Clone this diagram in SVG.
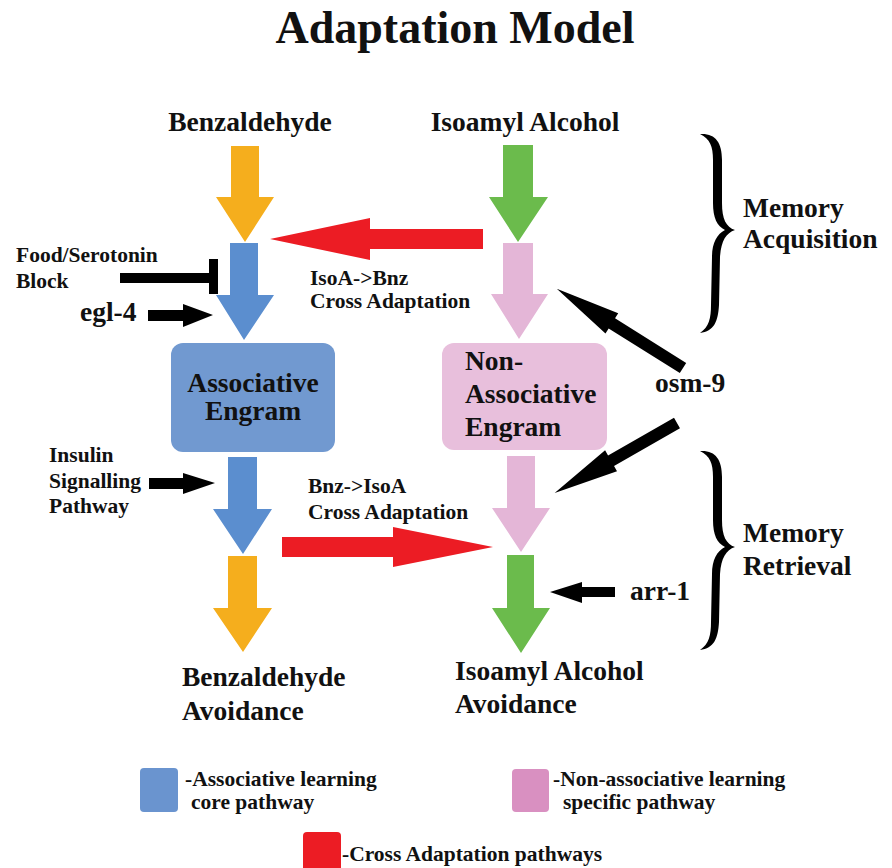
<svg xmlns="http://www.w3.org/2000/svg" width="892" height="868" viewBox="0 0 892 868">
<style>
text{font-family:"Liberation Serif","Times New Roman",serif;font-weight:bold;fill:#111}
.t27{font-size:27.5px}
.t21{font-size:21.5px}
.orange{fill:#f5ae1d}
.green{fill:#6bbb4c}
.blue{fill:#5b8ecf}
.pink{fill:#e4b6d7}
.red{fill:#ec1c24}
.blk{fill:#000}
</style>
<rect width="892" height="868" fill="#fff"/>
<text x="455" y="43" text-anchor="middle" style="font-size:46px">Adaptation Model</text>

<g id="benzaldehyde"><text class="t27" x="250" y="131" text-anchor="middle">Benzaldehyde</text></g>
<g id="isoamyl-alcohol"><text class="t27" x="525" y="131" text-anchor="middle">Isoamyl Alcohol</text></g>

<g id="associative-engram">
<rect x="171" y="343" width="164" height="109" rx="12" fill="#7199d0"/>
<text class="t27" x="253" y="392" text-anchor="middle">Associative</text>
<text class="t27" x="253" y="420" text-anchor="middle">Engram</text>
</g>
<g id="non-associative-engram">
<rect x="442" y="343" width="165" height="107" rx="12" fill="#e8bfdc"/>
<text class="t27" x="465" y="370">Non-</text>
<text class="t27" x="465" y="403">Associative</text>
<text class="t27" x="465" y="436">Engram</text>
</g>

<g id="food-serotonin"><text class="t21" x="16" y="262">Food/Serotonin</text><text class="t21" x="16" y="288">Block</text></g>
<g id="egl-4"><text class="t27" x="80" y="321">egl-4</text></g>
<g id="insulin"><text class="t21" x="49" y="462">Insulin</text><text class="t21" x="49" y="488">Signalling</text><text class="t21" x="49" y="513">Pathway</text></g>
<g id="osm-9"><text class="t27" x="655" y="392">osm-9</text></g>
<g id="arr-1"><text class="t27" x="630" y="600">arr-1</text></g>
<g id="isoa-bnz-label"><text class="t21" x="310" y="285">IsoA-&gt;Bnz</text><text class="t21" x="310" y="308">Cross Adaptation</text></g>
<g id="bnz-isoa-label"><text class="t21" x="308" y="493">Bnz-&gt;IsoA</text><text class="t21" x="308" y="519">Cross Adaptation</text></g>
<g id="benzaldehyde-avoidance"><text class="t27" x="182" y="686">Benzaldehyde</text><text class="t27" x="182" y="720">Avoidance</text></g>
<g id="isoamyl-avoidance"><text class="t27" x="455" y="680">Isoamyl Alcohol</text><text class="t27" x="455" y="713">Avoidance</text></g>

<g id="memory-acquisition">
<path class="blk" d="M700,134 C715,133 722,142 722,160 L722,203 C722,219 726,227 735,230 C726,233 721,241 720,257 L719,305 C718,322 714,331 700,333 C709,327 711,318 711,305 L712,257 C712,243 717,234 725,230 C717,226 713,218 713,203 L713,160 C713,146 710,139 700,134 Z"/>
<text class="t27" x="743" y="217">Memory</text><text class="t27" x="743" y="248">Acquisition</text>
</g>
<g id="memory-retrieval">
<path class="blk" d="M700,451 C715,450 722,459 722,477 L722,520 C722,536 726,544 735,547 C726,550 721,558 720,574 L719,622 C718,639 714,648 700,650 C709,644 711,635 711,622 L712,574 C712,560 717,551 725,547 C717,543 713,535 713,520 L713,477 C713,463 710,456 700,451 Z"/>
<text class="t27" x="743" y="542">Memory</text><text class="t27" x="743" y="575">Retrieval</text>
</g>

<g id="connectors">
<polygon class="orange" points="231,146 259,146 259,197 274,197 245,242 216,197 231,197"/>
<polygon class="blue" points="230,243 258,243 258,295 274,295 244,340 216,295 230,295"/>
<polygon class="blue" points="228,457 257,457 257,509 272,509 243,554 213,509 228,509"/>
<polygon class="orange" points="228,556 257,556 257,608 272,608 243,652 213,608 228,608"/>
<polygon class="green" points="503,145 533,145 533,197 548,197 518,242 489,197 503,197"/>
<polygon class="pink" points="503,243 533,243 533,294 548,294 519,339 491,294 503,294"/>
<polygon class="pink" points="507,456 535,456 535,508 550,508 521,552 492,508 507,508"/>
<polygon class="green" points="507,555 534,555 534,608 550,608 521,653 492,608 507,608"/>
<polygon class="red" points="483,229 370,229 370,218 270,239 370,260 370,249 483,249"/>
<polygon class="red" points="282,537 393,537 393,527 493,547 393,567 393,557 282,557"/>
<polygon class="blk" points="148,310 183,310 183,304 213,315 183,327 183,321 148,321"/>
<polygon class="blk" points="149,478 183,478 183,473 215,483 183,494 183,489 149,489"/>
<polygon class="blk" points="615,587 582,587 582,582 550,592 582,603 582,597 615,597"/>
<rect class="blk" x="120" y="273" width="93" height="10"/>
<rect class="blk" x="209" y="259" width="9" height="35"/>
<g transform="translate(683,368) rotate(212.1)"><polygon class="blk" points="0,-6 84,-6 84,-12 149,0 84,12 84,6 0,6"/></g>
<g transform="translate(677,423) rotate(150.2)"><polygon class="blk" points="0,-6 76,-6 76,-12 141,0 76,12 76,6 0,6"/></g>
</g>

<g id="legend">
<rect x="140" y="768" width="38" height="44" rx="4" fill="#6a94cf"/>
<text class="t21" x="185" y="786">-Associative learning</text>
<text class="t21" x="191" y="809">core pathway</text>
<rect x="512" y="769" width="37" height="43" rx="4" fill="#d990c1"/>
<text class="t21" x="553" y="786">-Non-associative learning</text>
<text class="t21" x="563" y="809">specific pathway</text>
<rect x="303" y="832" width="38" height="44" rx="4" fill="#ec1c24"/>
<text class="t21" x="342" y="861">-Cross Adaptation pathways</text>
</g>
</svg>
